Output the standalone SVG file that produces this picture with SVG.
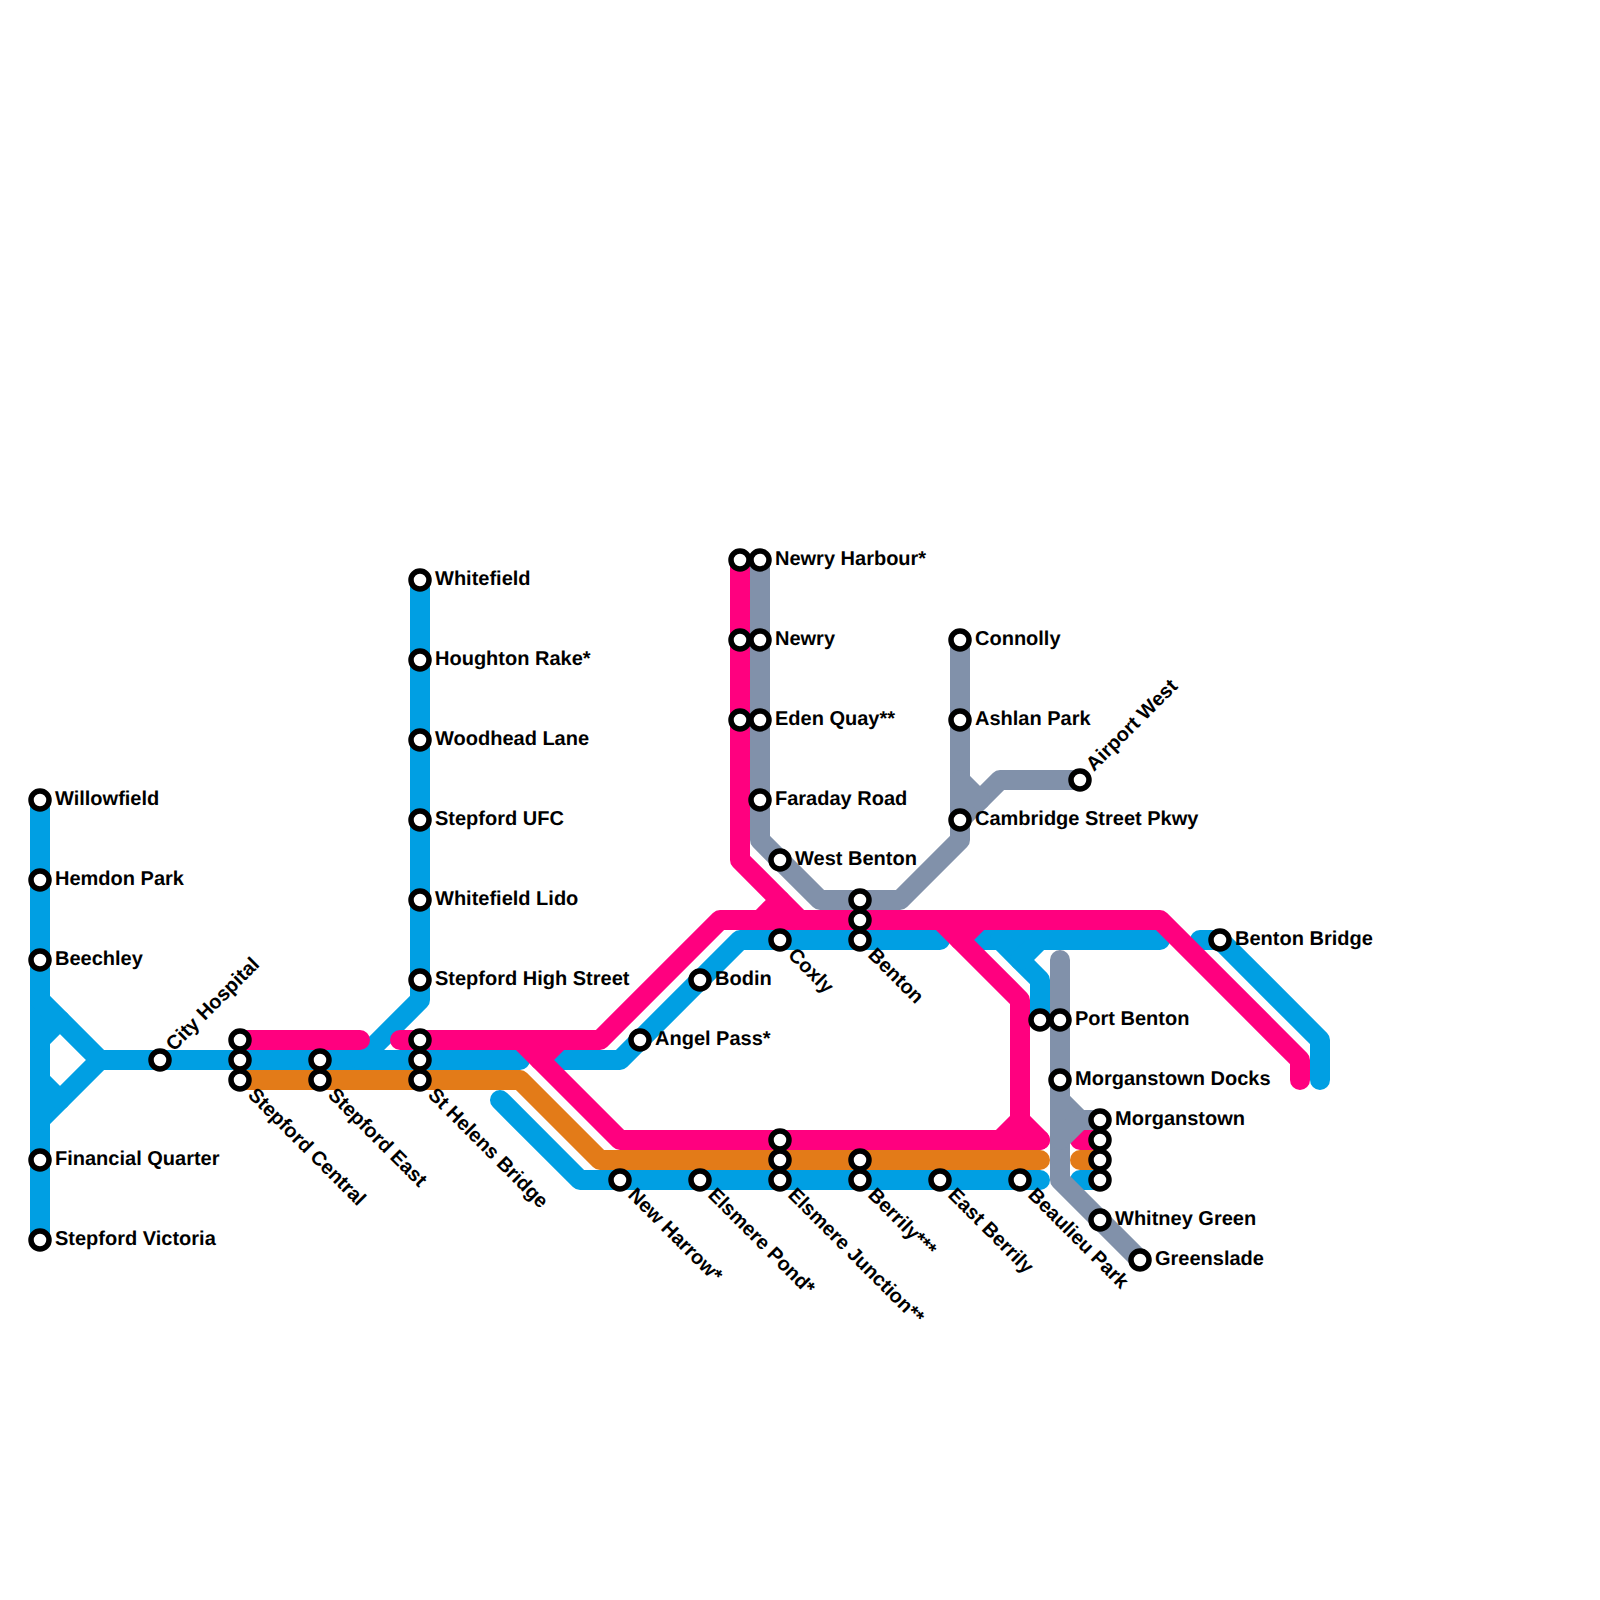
<svg xmlns="http://www.w3.org/2000/svg" width="1600" height="1600" viewBox="0 0 1600 1600">
<style>
text{font-family:"Liberation Sans",Arial,sans-serif;font-weight:700;font-size:20px;fill:#000;text-rendering:geometricPrecision}
path{fill:none;stroke-width:20;stroke-linejoin:round;stroke-linecap:round}
.b{stroke:#009fe3}.o{stroke:#e37b18}.p{stroke:#ff007f}.g{stroke:#8191aa}
circle{fill:#fff;stroke:#000;stroke-width:5.5;r:9px}
</style>
<rect width="1600" height="1600" fill="#fff"/>
<g id="connectors">
<path class="b" d="M40 800V1240"/>
<path class="b" d="M40 1000L100 1060H520"/>
<path class="b" d="M40 1120L100 1060"/>
<path class="b" d="M40 1040L60 1020"/>
<path class="b" d="M40 1080L60 1100"/>
<path class="b" d="M420 580V1000L360 1060"/>
<path class="b" d="M560 1060H620L740 940H940"/>
<path class="b" d="M500 1100L580 1180H1040"/>
<path class="b" d="M980 940H1160"/>
<path class="b" d="M1000 940L1040 980V1020"/>
<path class="b" d="M1020 960L1040 940"/>
<path class="b" d="M1200 940H1220L1320 1040V1080"/>
<path class="b" d="M1080 1180H1100"/>
<path class="o" d="M240 1080H520L600 1160H1040"/>
<path class="o" d="M1080 1160H1100"/>
<path class="p" d="M240 1040H360"/>
<path class="p" d="M400 1040H600L720 920H1160L1300 1060V1080"/>
<path class="p" d="M520 1040L620 1140H1040"/>
<path class="p" d="M560 1040L540 1060"/>
<path class="p" d="M740 560V860L800 920"/>
<path class="p" d="M780 900L760 920"/>
<path class="p" d="M940 920L1020 1000V1120L1040 1140"/>
<path class="p" d="M980 920L960 940"/>
<path class="p" d="M1020 1120L1000 1140"/>
<path class="p" d="M1080 1140H1100"/>
<path class="g" d="M760 560V840L820 900H900L960 840V640"/>
<path class="g" d="M1080 780H1000L960 820"/>
<path class="g" d="M960 780L980 800"/>
<path class="g" d="M1060 960V1180L1140 1260"/>
<path class="g" d="M1060 1100L1080 1120H1100"/>
<path class="g" d="M1080 1120L1060 1140"/>
</g>
<g id="willowfield"><circle cx="40" cy="800"/><text x="55" y="805">Willowfield</text></g>
<g id="hemdon-park"><circle cx="40" cy="880"/><text x="55" y="885">Hemdon Park</text></g>
<g id="beechley"><circle cx="40" cy="960"/><text x="55" y="965">Beechley</text></g>
<g id="financial-quarter"><circle cx="40" cy="1160"/><text x="55" y="1165">Financial Quarter</text></g>
<g id="stepford-victoria"><circle cx="40" cy="1240"/><text x="55" y="1245">Stepford Victoria</text></g>
<g id="city-hospital"><circle cx="160" cy="1060"/><text transform="translate(174 1052) rotate(-45)">City Hospital</text></g>
<g id="stepford-central"><circle cx="240" cy="1040"/><circle cx="240" cy="1060"/><circle cx="240" cy="1080"/><text transform="translate(247 1096) rotate(45)">Stepford Central</text></g>
<g id="stepford-east"><circle cx="320" cy="1060"/><circle cx="320" cy="1080"/><text transform="translate(327 1096) rotate(45)">Stepford East</text></g>
<g id="st-helens-bridge"><circle cx="420" cy="1040"/><circle cx="420" cy="1060"/><circle cx="420" cy="1080"/><text transform="translate(427 1096) rotate(45)">St Helens Bridge</text></g>
<g id="whitefield"><circle cx="420" cy="580"/><text x="435" y="585">Whitefield</text></g>
<g id="houghton-rake"><circle cx="420" cy="660"/><text x="435" y="665">Houghton Rake*</text></g>
<g id="woodhead-lane"><circle cx="420" cy="740"/><text x="435" y="745">Woodhead Lane</text></g>
<g id="stepford-ufc"><circle cx="420" cy="820"/><text x="435" y="825">Stepford UFC</text></g>
<g id="whitefield-lido"><circle cx="420" cy="900"/><text x="435" y="905">Whitefield Lido</text></g>
<g id="stepford-high-street"><circle cx="420" cy="980"/><text x="435" y="985">Stepford High Street</text></g>
<g id="angel-pass"><circle cx="640" cy="1040"/><text x="655" y="1045">Angel Pass*</text></g>
<g id="bodin"><circle cx="700" cy="980"/><text x="715" y="985">Bodin</text></g>
<g id="coxly"><circle cx="780" cy="940"/><text transform="translate(787 956) rotate(45)">Coxly</text></g>
<g id="benton"><circle cx="860" cy="900"/><circle cx="860" cy="920"/><circle cx="860" cy="940"/><text transform="translate(867 956) rotate(45)">Benton</text></g>
<g id="west-benton"><circle cx="780" cy="860"/><text x="795" y="865">West Benton</text></g>
<g id="newry-harbour"><circle cx="740" cy="560"/><circle cx="760" cy="560"/><text x="775" y="565">Newry Harbour*</text></g>
<g id="newry"><circle cx="740" cy="640"/><circle cx="760" cy="640"/><text x="775" y="645">Newry</text></g>
<g id="eden-quay"><circle cx="740" cy="720"/><circle cx="760" cy="720"/><text x="775" y="725">Eden Quay**</text></g>
<g id="faraday-road"><circle cx="760" cy="800"/><text x="775" y="805">Faraday Road</text></g>
<g id="connolly"><circle cx="960" cy="640"/><text x="975" y="645">Connolly</text></g>
<g id="ashlan-park"><circle cx="960" cy="720"/><text x="975" y="725">Ashlan Park</text></g>
<g id="cambridge-street-pkwy"><circle cx="960" cy="820"/><text x="975" y="825">Cambridge Street Pkwy</text></g>
<g id="airport-west"><circle cx="1080" cy="780"/><text transform="translate(1094 772) rotate(-45)">Airport West</text></g>
<g id="new-harrow"><circle cx="620" cy="1180"/><text transform="translate(627 1196) rotate(45)">New Harrow*</text></g>
<g id="elsmere-pond"><circle cx="700" cy="1180"/><text transform="translate(707 1196) rotate(45)">Elsmere Pond*</text></g>
<g id="elsmere-junction"><circle cx="780" cy="1140"/><circle cx="780" cy="1160"/><circle cx="780" cy="1180"/><text transform="translate(787 1196) rotate(45)">Elsmere Junction**</text></g>
<g id="berrily"><circle cx="860" cy="1160"/><circle cx="860" cy="1180"/><text transform="translate(867 1196) rotate(45)">Berrily***</text></g>
<g id="east-berrily"><circle cx="940" cy="1180"/><text transform="translate(947 1196) rotate(45)">East Berrily</text></g>
<g id="beaulieu-park"><circle cx="1020" cy="1180"/><text transform="translate(1027 1196) rotate(45)">Beaulieu Park</text></g>
<g id="port-benton"><circle cx="1040" cy="1020"/><circle cx="1060" cy="1020"/><text x="1075" y="1025">Port Benton</text></g>
<g id="morganstown-docks"><circle cx="1060" cy="1080"/><text x="1075" y="1085">Morganstown Docks</text></g>
<g id="morganstown"><circle cx="1100" cy="1120"/><circle cx="1100" cy="1140"/><circle cx="1100" cy="1160"/><circle cx="1100" cy="1180"/><text x="1115" y="1125">Morganstown</text></g>
<g id="whitney-green"><circle cx="1100" cy="1220"/><text x="1115" y="1225">Whitney Green</text></g>
<g id="greenslade"><circle cx="1140" cy="1260"/><text x="1155" y="1265">Greenslade</text></g>
<g id="benton-bridge"><circle cx="1220" cy="940"/><text x="1235" y="945">Benton Bridge</text></g>
</svg>
